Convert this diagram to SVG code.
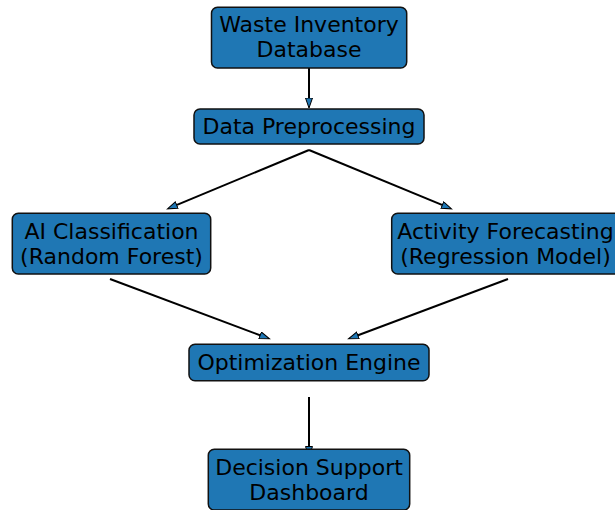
<svg xmlns="http://www.w3.org/2000/svg" width="615" height="510" viewBox="0 0 615 510">
<defs>
<style>
.box{fill:#1f77b4;stroke:#111;stroke-width:1.5}
.lbl{font-family:"DejaVu Sans",sans-serif;font-size:22px;fill:#000;text-anchor:middle}
.edge{stroke:#000;stroke-width:2;fill:none;marker-end:url(#ah)}
</style>
<marker id="ah" markerUnits="userSpaceOnUse" markerWidth="12" markerHeight="10" viewBox="0 0 12 10" refX="6" refY="4" orient="auto">
<path d="M0.5,0.5 L10.5,4 L0.5,7.5 z" fill="#1f77b4" stroke="#000" stroke-width="1"/>
</marker>
</defs>
<rect width="615" height="510" fill="#fff"/>
<g id="connectors">
<line class="edge" x1="309" y1="68" x2="309" y2="103.5"/>
<line class="edge" x1="309" y1="150" x2="171.6" y2="207.1"/>
<line class="edge" x1="309" y1="150" x2="447.4" y2="207.1"/>
<line class="edge" x1="110" y1="279" x2="265.3" y2="337.2"/>
<line class="edge" x1="508" y1="279" x2="352.7" y2="337.2"/>
<line class="edge" x1="309" y1="397" x2="309" y2="452"/>
</g>
<g id="waste-inventory">
<rect class="box" x="211.5" y="7.3" width="195.2" height="60.7" rx="6"/>
<text class="lbl" x="309" y="32">Waste Inventory</text>
<text class="lbl" x="309" y="57">Database</text>
</g>
<g id="data-preprocessing">
<rect class="box" x="194" y="109" width="230" height="35" rx="6"/>
<text class="lbl" x="309" y="133.5">Data Preprocessing</text>
</g>
<g id="ai-classification">
<rect class="box" x="12.3" y="213.3" width="198.4" height="60.7" rx="6"/>
<text class="lbl" x="111.5" y="238.5">AI Classification</text>
<text class="lbl" x="111.5" y="263.5">(Random Forest)</text>
</g>
<g id="activity-forecasting">
<rect class="box" x="391.7" y="213.3" width="234" height="60.7" rx="6"/>
<text class="lbl" x="505.5" y="238.5">Activity Forecasting</text>
<text class="lbl" x="505.5" y="263.5">(Regression Model)</text>
</g>
<g id="optimization-engine">
<rect class="box" x="189" y="344.3" width="240" height="36.4" rx="6"/>
<text class="lbl" x="309" y="370">Optimization Engine</text>
</g>
<g id="decision-support">
<rect class="box" x="208.3" y="449.3" width="201.4" height="60.7" rx="6"/>
<text class="lbl" x="309" y="474.5">Decision Support</text>
<text class="lbl" x="309" y="499.5">Dashboard</text>
</g>
</svg>
